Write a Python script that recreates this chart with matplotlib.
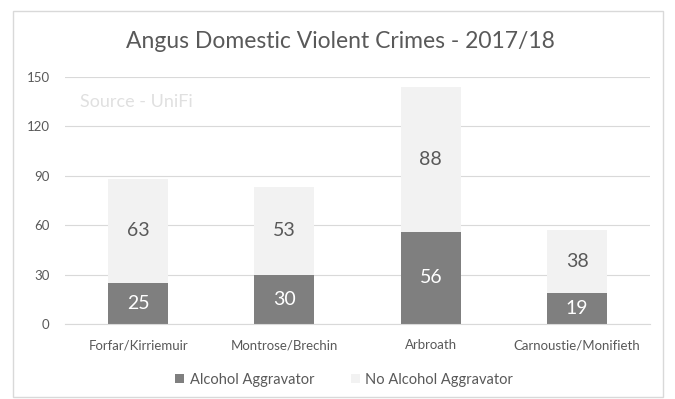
import matplotlib.pyplot as plt
from matplotlib.patches import Rectangle

plt.rcParams['font.family'] = ['Lato', 'DejaVu Sans']

areas = ['Forfar/Kirriemuir', 'Montrose/Brechin', 'Arbroath', 'Carnoustie/Monifieth']
alcohol = [25, 30, 56, 19]
no_alcohol = [63, 53, 88, 38]

dark = '#7f7f7f'
light = '#f2f2f2'
text_col = '#595959'

fig = plt.figure(figsize=(6.75, 3.99), dpi=100)
ax = fig.add_axes([0.0963, 0.188, 0.867, 0.619])

x = range(len(areas))
b1 = ax.bar(x, alcohol, width=0.41, color=dark, zorder=2)
b2 = ax.bar(x, no_alcohol, width=0.41, bottom=alcohol, color=light, zorder=2)

for i in x:
    ax.text(i, alcohol[i] / 2, str(alcohol[i]), ha='center', va='center',
            color='white', fontsize=14)
    ax.text(i, alcohol[i] + no_alcohol[i] / 2, str(no_alcohol[i]), ha='center',
            va='center', color=text_col, fontsize=14)

ax.set_xlim(-0.5, len(areas) - 0.5)
ax.set_ylim(0, 150)
ax.set_yticks(range(0, 151, 30))
ax.yaxis.grid(True, color='#d9d9d9', linewidth=0.8, zorder=0)
ax.set_axisbelow(True)
for s in ax.spines.values():
    s.set_visible(False)
ax.spines['bottom'].set_visible(True)
ax.spines['bottom'].set_color('#d9d9d9')
ax.set_xticks(list(x))
ax.set_xticklabels(areas)
ax.tick_params(axis='both', length=0, colors=text_col, labelsize=9.5)
ax.tick_params(axis='y', pad=11)
ax.tick_params(axis='x', pad=11)

ax.text(0.025, 0.9, 'Source - UniFi', transform=ax.transAxes, color='#e0e0e0',
        fontsize=13, va='center')

fig.text(0.505, 0.895, 'Angus Domestic Violent Crimes - 2017/18', ha='center',
         va='center', fontsize=16.5, color=text_col)

fig.legend([b1, b2], ['Alcohol Aggravator', 'No Alcohol Aggravator'], loc='center',
           bbox_to_anchor=(0.51, 0.048), ncol=2, frameon=False, fontsize=10.5,
           labelcolor=text_col, handlelength=0.6, handleheight=0.6,
           columnspacing=2.5, handletextpad=0.4)

fig.patches.append(Rectangle((13 / 675, 0.005), 650 / 675, 1 - 11 / 399 - 0.005,
                             transform=fig.transFigure, fill=False,
                             edgecolor='#d9d9d9', linewidth=1))

fig.savefig('out.png', dpi=100)
